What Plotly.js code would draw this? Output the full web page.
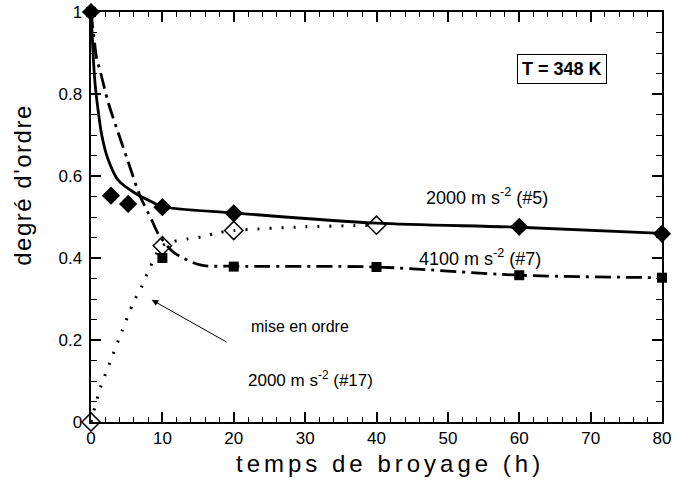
<!DOCTYPE html>
<html>
<head>
<meta charset="utf-8">
<script src="https://cdn.plot.ly/plotly-3.0.1.min.js"></script>
<style>html,body{margin:0;padding:0;background:#fff;}#chart{width:678px;height:484px;}</style>
</head>
<body>
<div id="chart"></div>
<script>
// Measured points (filled diamonds) - 2000 m s-2 (#5)
const s5X = [0, 2.8, 5.2, 10, 20, 60, 80];
const s5Y = [1, 0.552, 0.532, 0.524, 0.509, 0.476, 0.459];
// Fitted curve (#5)
const s5FitX = [0, 0.15, 0.35, 0.6, 1, 1.5, 2.4, 3.8, 6.2, 8.5, 10, 20, 40, 60, 80];
const s5FitY = [1, 0.95, 0.88, 0.82, 0.76, 0.70, 0.64, 0.59, 0.558, 0.537, 0.525, 0.51, 0.485, 0.475, 0.46];

// Measured points (filled squares) - 4100 m s-2 (#7)
const s7X = [0, 10, 20, 40, 60, 80];
const s7Y = [1, 0.40, 0.379, 0.378, 0.358, 0.352];
// Fitted curve (#7)
const s7FitX = [0, 0.4, 0.8, 1.3, 2.4, 3.8, 5.1, 6.9, 8.5, 9.4, 11.5, 15.3, 20, 40, 60, 80];
const s7FitY = [1, 0.94, 0.885, 0.855, 0.78, 0.706, 0.64, 0.55, 0.493, 0.46, 0.415, 0.383, 0.38, 0.378, 0.358, 0.352];

// Measured points (hollow diamonds) - mise en ordre 2000 m s-2 (#17)
const s17X = [0, 10, 20, 40];
const s17Y = [0, 0.43, 0.467, 0.48];
// Fitted curve (#17)
const s17FitX = [0, 1.3, 2.7, 4.3, 5.9, 7.1, 8.1, 10, 13.6, 15.6, 17.6, 20, 30, 40];
const s17FitY = [0, 0.083, 0.147, 0.22, 0.29, 0.33, 0.37, 0.43, 0.447, 0.452, 0.461, 0.467, 0.476, 0.48];

// Axis ticks: range, major step, minor step
const xRange = [0, 80];
const yRange = [0, 1];
const xMajor = 10, xMinor = 2;
const yMajor = 0.2, yMinor = 0.05;

const FONT = 'Liberation Sans, Arial, Helvetica, sans-serif';

function ghost(xa, ya) {
  // invisible trace that activates an extra (tick-only) axis pair
  return {x: [xRange[0]], y: [yRange[0]], xaxis: xa, yaxis: ya, mode: 'markers', marker: {opacity: 0}, hoverinfo: 'skip', showlegend: false};
}

const traces = [
  {x: s5FitX, y: s5FitY, mode: 'lines', line: {color: '#000', width: 2.8, shape: 'spline', smoothing: 0.8}, hoverinfo: 'skip'},
  {x: s7FitX, y: s7FitY, mode: 'lines', line: {color: '#000', width: 2.8, shape: 'spline', smoothing: 0.8, dash: '16px,6px,3px,6px'}, hoverinfo: 'skip'},
  {x: s17FitX, y: s17FitY, mode: 'lines', line: {color: '#000', width: 3, shape: 'spline', smoothing: 0.8, dash: '2px,10px'}, hoverinfo: 'skip'},
  {x: s5X, y: s5Y, mode: 'markers', marker: {symbol: 'diamond', size: 14, color: '#000'}, cliponaxis: false},
  {x: s7X, y: s7Y, mode: 'markers', marker: {symbol: 'square', size: 10, color: '#000'}, cliponaxis: false},
  {x: s17X, y: s17Y, mode: 'markers', marker: {symbol: 'diamond-open', size: 14, color: '#000', line: {width: 1.5}}, cliponaxis: false},
  ghost('x2', 'y2'), ghost('x3', 'y3'), ghost('x4', 'y4')
];

function tickAxis(range, step, len, width) {
  return {
    range: range, tickmode: 'linear', tick0: 0, dtick: step,
    ticks: 'inside', ticklen: len, tickwidth: width, tickcolor: '#000',
    showline: true, linewidth: 2, linecolor: '#000', showgrid: false, zeroline: false
  };
}

// main axes: major ticks + labels (bottom / left)
const xa = tickAxis(xRange, xMajor, 10, 1.5);
xa.tickfont = {size: 17, family: FONT};
const ya = tickAxis(yRange, yMajor, 10, 1.5);
ya.tickfont = {size: 17, family: FONT};
ya.ticksuffix = '\u2009';
// mirrored major ticks (top / right)
const xa2 = Object.assign(tickAxis(xRange, xMajor, 10, 1.5), {overlaying: 'x', side: 'top', anchor: 'y2', showticklabels: false});
const ya2 = Object.assign(tickAxis(yRange, yMajor, 10, 1.5), {overlaying: 'y', side: 'right', anchor: 'x2', showticklabels: false});
// minor ticks (bottom / left)
const xa3 = Object.assign(tickAxis(xRange, xMinor, 5, 1), {overlaying: 'x', side: 'bottom', anchor: 'y3', showticklabels: false});
const ya3 = Object.assign(tickAxis(yRange, yMinor, 6, 1), {overlaying: 'y', side: 'left', anchor: 'x3', showticklabels: false});
// minor ticks (top / right)
const xa4 = Object.assign(tickAxis(xRange, xMinor, 5, 1), {overlaying: 'x', side: 'top', anchor: 'y4', showticklabels: false});
const ya4 = Object.assign(tickAxis(yRange, yMinor, 6, 1), {overlaying: 'y', side: 'right', anchor: 'x4', showticklabels: false});

const layout = {
  width: 678, height: 484,
  margin: {l: 91, r: 16, t: 12, b: 62},
  paper_bgcolor: '#fff', plot_bgcolor: '#fff',
  showlegend: false,
  font: {family: FONT, color: '#000', size: 16},
  xaxis: xa, yaxis: ya, xaxis2: xa2, yaxis2: ya2, xaxis3: xa3, yaxis3: ya3, xaxis4: xa4, yaxis4: ya4,
  annotations: [
    {x: 66, y: 0.862, xref: 'x', yref: 'y', text: '<b>T = 348 K</b>', showarrow: false,
     font: {size: 18, family: FONT}, bordercolor: '#000', borderwidth: 1, borderpad: 4, bgcolor: '#fff'},
    {x: 55.5, y: 0.55, xref: 'x', yref: 'y', text: '2000 m s<sup>-2</sup> (#5)', showarrow: false, font: {size: 18}},
    {x: 54.5, y: 0.402, xref: 'x', yref: 'y', text: '4100 m s<sup>-2</sup> (#7)', showarrow: false, font: {size: 18}},
    {x: 29.3, y: 0.232, xref: 'x', yref: 'y', text: 'mise en ordre', showarrow: false, font: {size: 16}},
    {x: 30.7, y: 0.105, xref: 'x', yref: 'y', text: '2000 m s<sup>-2</sup> (#17)', showarrow: false, font: {size: 17}},
    {x: 8.5, y: 0.298, ax: 19.2, ay: 0.193, xref: 'x', yref: 'y', axref: 'x', ayref: 'y', text: '',
     showarrow: true, arrowhead: 2, arrowsize: 1.3, arrowwidth: 1, arrowcolor: '#000'},
    // axis titles
    {x: (390 - 91) / 571, y: -(463 - 422) / 410, xref: 'paper', yref: 'paper', text: 'temps de broyage (h)',
     showarrow: false, font: {size: 24, family: FONT}, xanchor: 'center', yanchor: 'middle'},
    {x: (22 - 91) / 571, y: (422 - 185) / 410, xref: 'paper', yref: 'paper', text: "degré d'ordre", textangle: -90,
     showarrow: false, font: {size: 24, family: FONT}, xanchor: 'center', yanchor: 'middle'}
  ]
};

Plotly.newPlot('chart', traces, layout, {displayModeBar: false}).then(function () {
  const anns = document.querySelectorAll('.annotation');
  anns.forEach(function (g) {
    const idx = g.getAttribute('data-index');
    const t = g.querySelector('text');
    if (!t) return;
    if (idx === '6') t.style.letterSpacing = '4px';
    if (idx === '7') t.style.letterSpacing = '1.5px';
  });
});
</script>
</body>
</html>
